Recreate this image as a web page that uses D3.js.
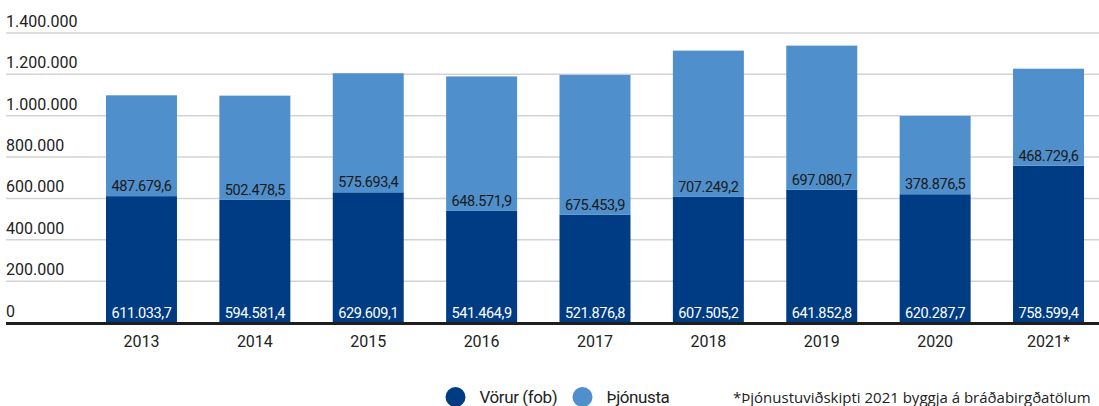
<!DOCTYPE html>
<html>
<head>
<meta charset="utf-8">
<script src="https://cdn.jsdelivr.net/npm/d3@7"></script>
<style>
  body { margin: 0; background: #fff; overflow: hidden; }
  svg { display: block; font-family: Roboto, "Open Sans", sans-serif; }
</style>
</head>
<body>
<svg id="chart" width="1099" height="406"></svg>
<script>
const years = ["2013", "2014", "2015", "2016", "2017", "2018", "2019", "2020", "2021*"]
const vorur = [611033.7, 594581.4, 629609.1, 541464.9, 521876.8, 607505.2, 641852.8, 620287.7, 758599.4]
const thjonusta = [487679.6, 502478.5, 575693.4, 648571.9, 675453.9, 707249.2, 697080.7, 378876.5, 468729.6]
const yTicks = [0, 200000, 400000, 600000, 800000, 1000000, 1200000, 1400000]
const seriesNames = ["Vörur (fob)", "Þjónusta"]
const footnote = "*Þjónustuviðskipti 2021 byggja á bráðabirgðatölum"

const dark = "#003c84", light = "#4e8fcc"

const svg = d3.select("#chart")

const x = d3.scaleBand().domain(years).range([106, 1084]).paddingInner(0.374).paddingOuter(0)
const y = d3.scaleLinear().domain([0, 1400000]).range([322.5, 33])

// number format: 611.033,7
const loc = d3.formatLocale({decimal: ",", thousands: ".", grouping: [3], currency: ["", ""]})
const fmt1 = loc.format(",.1f")
const fmt0 = loc.format(",.0f")

// gridlines + y labels
const grid = svg.append("g")
grid.selectAll("line").data(yTicks.slice(1)).enter().append("line")
  .attr("x1", 6).attr("x2", 1099)
  .attr("y1", d => y(d)).attr("y2", d => y(d))
  .attr("stroke", "#d3d3d3").attr("stroke-width", 1.5)

grid.selectAll("text").data(yTicks).enter().append("text")
  .attr("x", 6).attr("y", d => y(d) - 6)
  .attr("font-size", 16).attr("fill", "#222")
  .text(d => fmt0(d))

// bars
const rows = years.map((yr, i) => ({year: yr, v: vorur[i], t: thjonusta[i]}))

const bars = svg.append("g")
bars.selectAll(".dark").data(rows).enter().append("rect")
  .attr("class", "dark")
  .attr("x", d => x(d.year)).attr("width", x.bandwidth())
  .attr("y", d => y(d.v)).attr("height", d => y(0) - y(d.v))
  .attr("fill", dark)

bars.selectAll(".light").data(rows).enter().append("rect")
  .attr("class", "light")
  .attr("x", d => x(d.year)).attr("width", x.bandwidth())
  .attr("y", d => y(d.v + d.t)).attr("height", d => y(d.v) - y(d.v + d.t))
  .attr("fill", light)

// value labels
bars.selectAll(".lv").data(rows).enter().append("text")
  .attr("x", d => x(d.year) + x.bandwidth() / 2).attr("y", y(0) - 5)
  .attr("text-anchor", "middle").attr("font-size", 14.5).attr("letter-spacing", -0.4)
  .attr("fill", "#fff")
  .text(d => fmt1(d.v))

bars.selectAll(".lt").data(rows).enter().append("text")
  .attr("x", d => x(d.year) + x.bandwidth() / 2).attr("y", d => y(d.v) - 5)
  .attr("text-anchor", "middle").attr("font-size", 14.5).attr("letter-spacing", -0.4)
  .attr("fill", "#1a1a1a")
  .text(d => fmt1(d.t))

// x axis
svg.append("line")
  .attr("x1", 6).attr("x2", 1099).attr("y1", y(0) + 1).attr("y2", y(0) + 1)
  .attr("stroke", "#1e1e1e").attr("stroke-width", 3)

svg.append("g").selectAll("text").data(years).enter().append("text")
  .attr("x", d => x(d) + x.bandwidth() / 2).attr("y", 347)
  .attr("text-anchor", "middle").attr("font-size", 16).attr("fill", "#222")
  .text(d => d)

// legend
const legend = svg.append("g")
const lx = [455.5, 582.5]
legend.selectAll("circle").data(seriesNames).enter().append("circle")
  .attr("cx", (d, i) => lx[i]).attr("cy", 397).attr("r", 10)
  .attr("fill", (d, i) => i ? light : dark)
legend.selectAll("text").data(seriesNames).enter().append("text")
  .attr("x", (d, i) => lx[i] + 24).attr("y", 403)
  .attr("font-size", 17).attr("letter-spacing", -0.4).attr("fill", "#222")
  .text(d => d)

svg.append("text")
  .attr("x", 733).attr("y", 403)
  .attr("font-family", "'Open Sans', sans-serif")
  .attr("font-size", 15).attr("fill", "#222")
  .text(footnote)
</script>
</body>
</html>
